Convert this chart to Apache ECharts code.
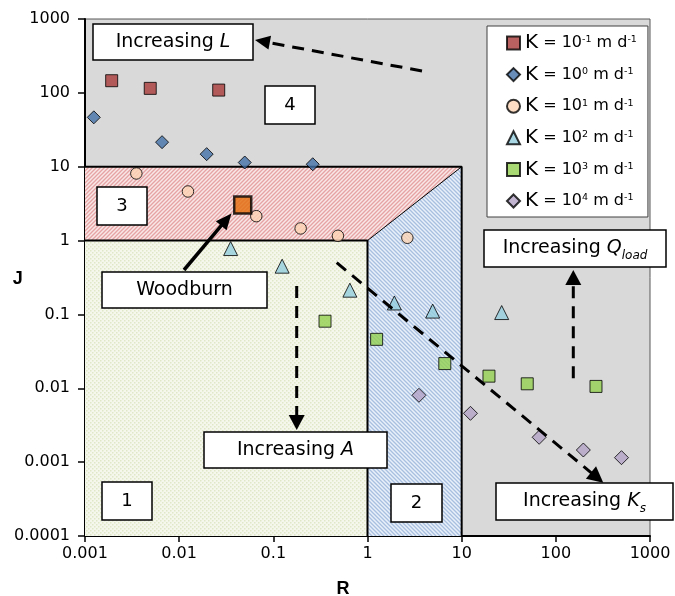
<!DOCTYPE html>
<html><head><meta charset="utf-8">
<script src="https://cdn.jsdelivr.net/npm/echarts@6/dist/echarts.min.js"></script>
<style>html,body{margin:0;padding:0;background:#fff}#c{width:675px;height:596px}</style>
</head><body><div id="c"></div>
<script>
// ---- data ----
const xTickLabels = ['0.001','0.01','0.1','1','10','100','1000'];
const yTickLabels = ['0.0001','0.001','0.01','0.1','1','10','100','1000'];
const xMinExp = -3, yMinExp = -4;
const seriesKeys = ['K-1','K0','K1','K2','K3','K4'];
const kExponents = ['-1','0','1','2','3','4'];

const rKm1 = [0.00192, 0.00493, 0.0263];
const jKm1 = [146, 115, 109];
const rK0 = [0.00124, 0.00658, 0.0196, 0.0497, 0.262];
const jK0 = [46.6, 21.5, 14.8, 11.4, 10.8];
const rK1 = [0.00351, 0.0124, 0.0659, 0.195, 0.485, 2.65];
const jK1 = [8.1, 4.62, 2.14, 1.46, 1.16, 1.09];
const rK2 = [0.0352, 0.124, 0.65, 1.93, 4.92, 26.6];
const jK2 = [0.78, 0.45, 0.213, 0.143, 0.111, 0.106];
const rK3 = [0.354, 1.25, 6.62, 19.5, 49.7, 267];
const jK3 = [0.081, 0.046, 0.0216, 0.0146, 0.0115, 0.0106];
const rK4 = [3.52, 12.4, 66.5, 196, 498];
const jK4 = [0.00804, 0.00458, 0.00217, 0.00146, 0.00115];
const rWoodburn = [0.0473];
const jWoodburn = [3.02];

// region outlines (R, J)
const region1 = [[0.001,0.0001],[1,0.0001],[1,1],[0.001,1]];
const region2 = [[1,0.0001],[10,0.0001],[10,10],[1,1]];
const region3 = [[0.001,1],[1,1],[10,10],[0.001,10]];
const boundaryOuter = [[0.001,10],[10,10],[10,0.0001]];
const boundaryInner = [[0.001,1],[1,1],[1,0.0001]];
const boundaryDiag = [[1,1],[10,10]];

// ---- helpers ----
function zip(a,b){ return a.map((v,i)=>[v,b[i]]); }
function stripe(bg, fg, dir){
  const s=4, c=document.createElement('canvas'); c.width=s; c.height=s;
  const g=c.getContext('2d'); g.fillStyle=bg; g.fillRect(0,0,s,s);
  g.strokeStyle=fg; g.lineWidth=1.3; g.beginPath();
  if(dir>0){ g.moveTo(-1,s+1); g.lineTo(s+1,-1); g.moveTo(-1,1); g.lineTo(1,-1); g.moveTo(s-1,s+1); g.lineTo(s+1,s-1); }
  else { g.moveTo(-1,-1); g.lineTo(s+1,s+1); g.moveTo(s-1,-1); g.lineTo(s+1,1); g.moveTo(-1,s-1); g.lineTo(1,s+1); }
  g.stroke(); return c;
}
function dots(bg, fg){
  const s=4, c=document.createElement('canvas'); c.width=s; c.height=s;
  const g=c.getContext('2d'); g.fillStyle=bg; g.fillRect(0,0,s,s);
  g.fillStyle=fg; g.fillRect(0,0,1.5,1.5); g.fillRect(2,2,1.5,1.5);
  return c;
}
const regions = [region1, region2, region3];
const regionFills = [
  {image: dots('#f5f7ec','#dfe7c8'), repeat:'repeat'},
  {image: stripe('#e9f0f9','#a8bfe0',-1), repeat:'repeat'},
  {image: stripe('#f9e6e6','#e6a3a3',1), repeat:'repeat'}
];

const FONT = 'DejaVu Sans';
function box(x,y,w,h,text,size,rich){
  return [
    {type:'rect', shape:{x:x,y:y,width:w,height:h}, style:{fill:'#fff', stroke:'#000', lineWidth:1.5}, z:100},
    {type:'text', x:x+w/2, y:y+h/2, z:101, style:{text:text, fill:'#000', fontFamily:FONT, fontSize:size, align:'center', verticalAlign:'middle', rich:rich}}
  ];
}
function arrow(x1,y1,x2,y2,dashed,len,hw,lw){
  const dx=x2-x1, dy=y2-y1, d=Math.hypot(dx,dy), ux=dx/d, uy=dy/d;
  const bx=x2-ux*len, by=y2-uy*len, px=-uy, py=ux;
  return [
    {type:'line', shape:{x1:x1,y1:y1,x2:bx+ux*2,y2:by+uy*2}, style:{stroke:'#000', lineWidth:lw, lineDash: dashed?[12,8]:null}, z:100},
    {type:'polygon', shape:{points:[[x2,y2],[bx+px*hw,by+py*hw],[bx-px*hw,by-py*hw]]}, style:{fill:'#000'}, z:100}
  ];
}
const richIt = {
  n:{fontFamily:FONT, fontSize:19, lineHeight:26, verticalAlign:'middle'},
  i:{fontFamily:FONT, fontSize:19, fontStyle:'italic', lineHeight:26, verticalAlign:'middle'},
  sub:{fontFamily:FONT, fontSize:12, fontStyle:'italic', lineHeight:13, verticalAlign:'bottom'}
};

const chart = echarts.init(document.getElementById('c'), null, {renderer:'canvas'});
const scatterBase = {type:'scatter', z:5, silent:true};
const option = {
  animation:false,
  grid:{left:85, top:19, right:25, bottom:60, show:true, backgroundColor:'#d9d9d9', borderColor:'#595959', borderWidth:1, outerBoundsMode:'none', containLabel:false},
  xAxis:{type:'log', logBase:10, min:0.001, max:1000, splitNumber:6,
    axisLine:{show:true, onZero:false, lineStyle:{color:'#000', width:2}},
    axisTick:{show:true, length:6, lineStyle:{color:'#000', width:1.5}},
    minorTick:{show:false}, splitLine:{show:false},
    axisLabel:{show:true, margin:10, color:'#000', fontFamily:FONT, fontSize:16, showMinLabel:true, showMaxLabel:true, hideOverlap:false,
      formatter:function(v){ return xTickLabels[Math.round(Math.log10(v))-xMinExp]; }}
  },
  yAxis:{type:'log', logBase:10, min:0.0001, max:1000, splitNumber:7,
    axisLine:{show:true, onZero:false, lineStyle:{color:'#000', width:2}},
    axisTick:{show:true, length:7, lineStyle:{color:'#000', width:1.5}},
    minorTick:{show:false}, splitLine:{show:false},
    axisLabel:{show:true, margin:15, color:'#000', fontFamily:FONT, fontSize:16, showMinLabel:true, showMaxLabel:true, hideOverlap:false,
      formatter:function(v){ return yTickLabels[Math.round(Math.log10(v))-yMinExp]; }}
  },
  legend:{
    data: seriesKeys, orient:'vertical', left:487, top:26,
    padding:[7,11,6,19], itemGap:11.6, itemWidth:13, itemHeight:13,
    backgroundColor:'#fff', borderColor:'#404040', borderWidth:1, borderRadius:0,
    selectedMode:false,
    textStyle:{color:'#000', fontFamily:FONT, fontSize:16, lineHeight:18,
      rich:{
        k:{fontFamily:FONT, fontSize:20, lineHeight:18, color:'#000'},
        m:{fontFamily:FONT, fontSize:16, lineHeight:18, color:'#000'},
        s:{fontFamily:FONT, fontSize:9.5, lineHeight:18, color:'#000', verticalAlign:'top', padding:[1,0,0,0]}
      }},
    formatter:function(name){ const i=seriesKeys.indexOf(name); return '{k|K}{m| = 10}{s|'+kExponents[i]+'}{m| m d}{s|-1}'; }
  },
  series:[
    {type:'custom', silent:true, z:1, clip:true, dimensions:['x','y','idx'], encode:{x:0,y:1},
      data:[[1,1,0],[1,1,1],[1,1,2]],
      renderItem:function(params, api){
        const idx=api.value(2); const pts=regions[idx].map(p=>api.coord(p));
        return {type:'polygon', shape:{points:pts}, style:{fill:regionFills[idx], stroke:null}};
      }},
    {type:'line', silent:true, z:3, data:boundaryOuter, symbol:'none', lineStyle:{color:'#000', width:2}},
    {type:'line', silent:true, z:3, data:boundaryInner, symbol:'none', lineStyle:{color:'#000', width:2}},
    {type:'line', silent:true, z:3, data:boundaryDiag, symbol:'none', lineStyle:{color:'#000', width:1}},
    Object.assign({}, scatterBase, {name:'K-1', data:zip(rKm1,jKm1), symbol:'rect', symbolSize:12, itemStyle:{color:'#a83a3a', borderColor:'#000', borderWidth:1}}),
    Object.assign({}, scatterBase, {name:'K0', data:zip(rK0,jK0), symbol:'diamond', symbolSize:13, itemStyle:{color:'#4270a8', borderColor:'#000', borderWidth:1}}),
    Object.assign({}, scatterBase, {name:'K1', data:zip(rK1,jK1), symbol:'circle', symbolSize:11.5, itemStyle:{color:'#fcd5b5', borderColor:'#000', borderWidth:1}}),
    Object.assign({}, scatterBase, {name:'K2', data:zip(rK2,jK2), symbol:'triangle', symbolSize:14, itemStyle:{color:'#93cddd', borderColor:'#000', borderWidth:1}}),
    Object.assign({}, scatterBase, {name:'K3', data:zip(rK3,jK3), symbol:'rect', symbolSize:12, itemStyle:{color:'#92d050', borderColor:'#000', borderWidth:1}}),
    Object.assign({}, scatterBase, {name:'K4', data:zip(rK4,jK4), symbol:'diamond', symbolSize:14, itemStyle:{color:'#b3a2c7', borderColor:'#000', borderWidth:1}}),
    Object.assign({}, scatterBase, {name:'Woodburn', data:zip(rWoodburn,jWoodburn), symbol:'rect', symbolSize:17, z:6, itemStyle:{color:'#e46c0a', borderColor:'#000', borderWidth:2.5}})
  ],
  graphic:{elements:[].concat(
    box(93,24,160,36,'{n|Increasing }{i|L}',19,richIt),
    box(265,86,50,38,'4',18),
    box(97,187,50,38,'3',18),
    box(102,272,165,36,'Woodburn',19),
    box(204,432,183,36,'{n|Increasing }{i|A}',19,richIt),
    box(102,482,50,38,'1',18),
    box(391,484,51,38,'2',18),
    box(496,483,177,37,'{n|Increasing }{i|K}{sub|s}',19,richIt),
    box(484,230,182,37,'{n|Increasing }{i|Q}{sub|load}',19,richIt),
    arrow(422,71,255,40,true,15,7,3),
    arrow(184,270,231.5,213.5,false,16,7,3.5),
    arrow(296.7,286,296.7,430,true,15,8,3),
    arrow(336.7,262.7,603.3,482.7,true,16,8,3),
    arrow(573.3,378.3,573.3,270,true,15,8,3),
    [
      {type:'text', x:17.7, y:279.5, z:101, style:{text:'J', fill:'#000', fontFamily:'Liberation Sans', fontWeight:'bold', fontSize:18, align:'center', verticalAlign:'middle'}},
      {type:'text', x:343, y:589.5, z:101, style:{text:'R', fill:'#000', fontFamily:'Liberation Sans', fontWeight:'bold', fontSize:18, align:'center', verticalAlign:'middle'}}
    ]
  )}
};
chart.setOption(option);
</script>
</body></html>
